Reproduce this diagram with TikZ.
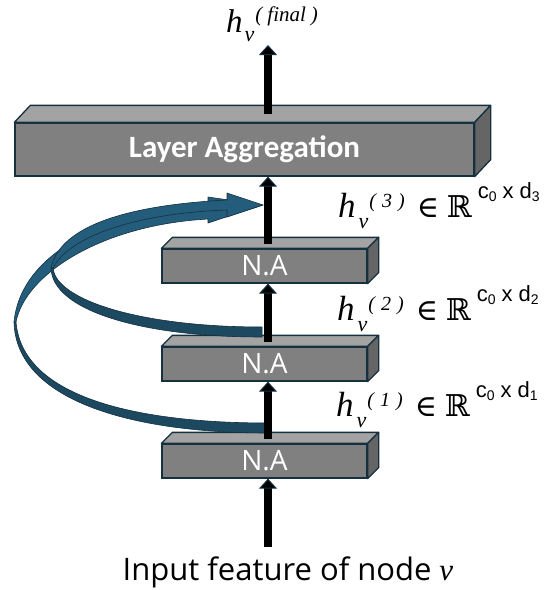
\documentclass[tikz,border=0pt]{standalone}
\usepackage{fontspec}
\setmainfont{Open Sans}
\newfontfamily\tnr{Liberation Serif}
\newfontfamily\dvs{DejaVu Serif}
\newfontfamily\arl{Liberation Sans}
\newfontfamily\calib{Carlito}
\usetikzlibrary{arrows.meta}
\definecolor{edgec}{HTML}{15303F}
\definecolor{frontc}{HTML}{808080}
\definecolor{topc}{HTML}{A3A3A3}
\definecolor{sidec}{HTML}{656565}
\definecolor{bluel}{HTML}{245D7B}
\definecolor{blued}{HTML}{1D4960}
\newcommand\threed[3]{%
 \filldraw[fill=topc,draw=edgec,line width=1.3pt,line join=round] (#1.north west) -- ++(#2,-#3) -- ([shift={(#2,-#3)}]#1.north east) -- (#1.north east) -- cycle;
 \filldraw[fill=sidec,draw=edgec,line width=1.3pt,line join=round] (#1.north east) -- ([shift={(#2,-#3)}]#1.north east) -- ([shift={(#2,-#3)}]#1.south east) -- (#1.south east) -- cycle;}
\newcommand\hlab[1]{{\tnr\itshape\fontsize{35}{35}\selectfont h}\kern3pt\raisebox{-11pt}{\tnr\itshape\fontsize{22}{22}\selectfont v}\kern1pt\raisebox{10pt}{\tnr\itshape\fontsize{20}{20}\selectfont(\kern6pt#1\kern6pt)}\kern12pt{\dvs\fontsize{30}{30}\selectfont ∈\kern8pt ℝ}\kern6pt\raisebox{19pt}{\arl\fontsize{22}{22}\selectfont c\raisebox{-3pt}{\fontsize{14}{14}\selectfont 0}\kern6pt x\kern6pt d\raisebox{-3pt}{\fontsize{14}{14}\selectfont #1}}}
\tikzset{
 fbox/.style={draw=edgec, fill=frontc, line width=1.3pt, inner sep=0pt, text=white},
 blk/.style={line width=8pt, black, -{Triangle[length=10pt,width=18pt,line width=1pt,color=edgec,fill=black]}},
 blueup/.style={fill=bluel, draw=edgec, line width=0.6pt, line join=round},
 bluedn/.style={fill=blued, draw=edgec, line width=0.6pt, line join=round},
 lab/.style={anchor=base west, inner sep=0pt}
}
\begin{document}
\begin{tikzpicture}[x=1pt,y=-1pt]
\useasboundingbox (0,0) rectangle (556,590);
% boxes
\node[fbox, minimum width=459pt, minimum height=53pt, font=\calib\bfseries\fontsize{31}{32}\selectfont] (la) at (244.5,149.5) {Layer Aggregation};
\threed{la}{16}{17}
\node[fbox, minimum width=205pt, minimum height=34pt, font=\fontsize{28}{30}\selectfont] (na3) at (264.5,266) {N.A};
\threed{na3}{11}{11}
\node[fbox, minimum width=205pt, minimum height=34pt, font=\fontsize{28}{30}\selectfont] (na2) at (264.5,364) {N.A};
\threed{na2}{11}{11}
\node[fbox, minimum width=205pt, minimum height=34pt, font=\fontsize{28}{30}\selectfont] (na1) at (264.5,461) {N.A};
\threed{na1}{11}{11}
% curved skip arrows
\filldraw[bluedn] (268,433) .. controls (130,433) and (16,400) .. (14,322) -- (16,322) .. controls (22,395) and (130,423) .. (268,423) -- cycle;
\filldraw[blueup] (14,322) .. controls (20,260) and (90,215) .. (208,203) -- (208,197) -- (263,205) -- (208,223) -- (208,219) .. controls (100,225) and (25,275) .. (16,322) -- cycle;
\filldraw[bluedn] (262,337) .. controls (140,337) and (52,310) .. (51,268) -- (53,268) .. controls (56,300) and (140,327) .. (262,327) -- cycle;
\filldraw[blueup] (51,268) .. controls (60,225) and (130,205) .. (227,200) -- (227,193) -- (263,205) -- (227,217) -- (227,210) .. controls (140,213) and (70,235) .. (53,268) -- cycle;
% vertical arrows
\coordinate (inp) at (268,547);
\coordinate (top) at (268,45);
\draw[blk] (inp) -- (inp |- na1.south);
\draw[blk] ([yshift=4pt]inp |- na1.north) -- (inp |- na2.south);
\draw[blk] ([yshift=4pt]inp |- na2.north) -- (inp |- na3.south);
\draw[blk] ([yshift=4pt]inp |- na3.north) -- (inp |- la.south);
\draw[blk] ([yshift=8pt]inp |- la.north) -- (top);
% labels
\node[lab] (fin) at (226,32) {{\tnr\itshape\fontsize{33}{33}\selectfont h}\kern2pt\raisebox{-9pt}{\tnr\itshape\fontsize{22}{22}\selectfont v}\kern1pt\raisebox{11pt}{\tnr\itshape\fontsize{21}{21}\selectfont(\kern5pt final\kern5pt)}};
\node[lab] (lab3) at (338,217) {\hlab{3}};
\node[lab] (lab2) at (337,320) {\hlab{2}};
\node[lab] (lab1) at (336,416) {\hlab{1}};
\node[anchor=base, inner sep=0pt, font=\fontsize{31}{31}\selectfont] (inptxt) at (288,580) {Input feature of node {\tnr\itshape v}};
\end{tikzpicture}
\end{document}
